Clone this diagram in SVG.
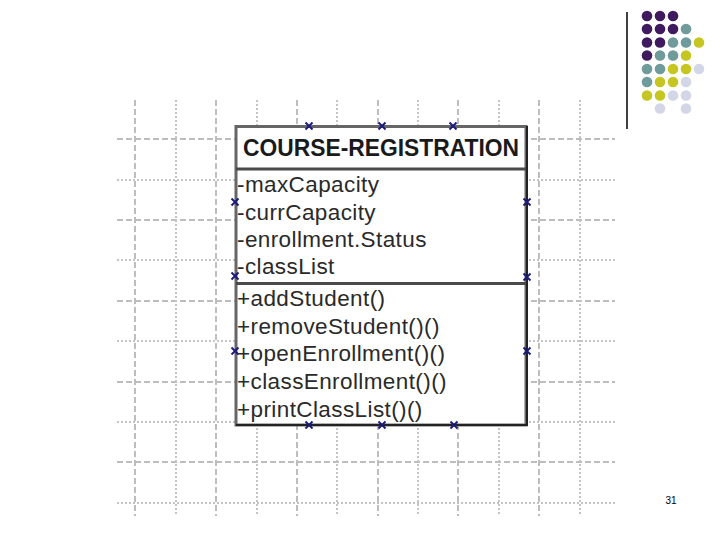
<svg xmlns="http://www.w3.org/2000/svg" width="720" height="540" viewBox="0 0 720 540">
<style>
.gD{stroke:#bdbdbd;stroke-width:2;stroke-dasharray:6 3;fill:none}
.gd{stroke:#c4c4c4;stroke-width:2;stroke-dasharray:2 2;fill:none}
.t{font-family:"Liberation Sans",Arial,sans-serif;font-size:22.5px;letter-spacing:0.4px;fill:#2a2a2a}
.h{font-family:"Liberation Sans",Arial,sans-serif;font-size:23px;font-weight:bold;fill:#1a1a1a}
.mk{stroke:#1a1a7a;stroke-width:1.9;fill:none}
.P{fill:#3f1a5f}.T{fill:#6f9b9b}.Y{fill:#c6c622}.L{fill:#d3d6e6}
</style>
<defs>
<path id="x" d="M-3.5,-3.5L3.5,3.5M-3.5,3.5L3.5,-3.5" class="mk"/>
</defs>
<rect width="720" height="540" fill="#fff"/>
<g id="grid">
<g class="gD">
<path d="M135,100V516M216,100V516M297,100V516M378,100V516M458,100V516M539,100V516"/>
<path d="M117,139H615M117,220H615M117,301H615M117,382H615M117,462H615"/>
</g>
<g class="gd">
<path d="M176,100V516M257,100V516M337,100V516M418,100V516M499,100V516M580,100V516"/>
<path d="M117,180H615M117,260H615M117,341H615M117,422H615M117,503H615"/>
</g>
</g>
<g id="course-registration">
<rect x="236" y="126.5" width="290" height="298.5" fill="#fff" stroke="#666" stroke-width="3"/>
<path d="M236,169H526M236,283.5H526" stroke="#4a4a4a" stroke-width="3"/>
<path d="M236,425H527V126" stroke="#222" stroke-width="2" fill="none"/>
<text class="h" x="381" y="155.5" text-anchor="middle" textLength="276" lengthAdjust="spacingAndGlyphs">COURSE-REGISTRATION</text>
<text class="t" x="237" y="192">-maxCapacity</text>
<text class="t" x="237" y="219.5">-currCapacity</text>
<text class="t" x="237" y="247">-enrollment.Status</text>
<text class="t" x="237" y="274">-classList</text>
<text class="t" x="237" y="306">+addStudent()</text>
<text class="t" x="237" y="334">+removeStudent()()</text>
<text class="t" x="237" y="361">+openEnrollment()()</text>
<text class="t" x="237" y="389">+classEnrollment()()</text>
<text class="t" x="237" y="416.5">+printClassList()()</text>
</g>
<g id="handles">
<use href="#x" x="309" y="126"/><use href="#x" x="382" y="126"/><use href="#x" x="453" y="126"/>
<use href="#x" x="309" y="425"/><use href="#x" x="382" y="425"/><use href="#x" x="454" y="425"/>
<use href="#x" x="235" y="202"/><use href="#x" x="235" y="276"/><use href="#x" x="235" y="351"/>
<use href="#x" x="527" y="202"/><use href="#x" x="527" y="277"/><use href="#x" x="527" y="351"/>
</g>
<g id="decoration">
<path d="M627,12V129" stroke="#000" stroke-width="1.5"/>
<g>
<circle class="P" cx="647" cy="16" r="5.3"/><circle class="P" cx="660" cy="16" r="5.3"/><circle class="P" cx="673" cy="16" r="5.3"/>
<circle class="P" cx="647" cy="29" r="5.3"/><circle class="P" cx="660" cy="29" r="5.3"/><circle class="P" cx="673" cy="29" r="5.3"/><circle class="T" cx="686" cy="29" r="5.3"/>
<circle class="P" cx="647" cy="42.5" r="5.3"/><circle class="P" cx="660" cy="42.5" r="5.3"/><circle class="T" cx="673" cy="42.5" r="5.3"/><circle class="T" cx="686" cy="42.5" r="5.3"/><circle class="Y" cx="699" cy="42.5" r="5.3"/>
<circle class="P" cx="647" cy="55.5" r="5.3"/><circle class="T" cx="660" cy="55.5" r="5.3"/><circle class="T" cx="673" cy="55.5" r="5.3"/><circle class="Y" cx="686" cy="55.5" r="5.3"/>
<circle class="T" cx="647" cy="69" r="5.3"/><circle class="T" cx="660" cy="69" r="5.3"/><circle class="Y" cx="673" cy="69" r="5.3"/><circle class="Y" cx="686" cy="69" r="5.3"/><circle class="L" cx="699" cy="69" r="5.3"/>
<circle class="T" cx="647" cy="82" r="5.3"/><circle class="Y" cx="660" cy="82" r="5.3"/><circle class="Y" cx="673" cy="82" r="5.3"/><circle class="L" cx="686" cy="82" r="5.3"/>
<circle class="Y" cx="647" cy="95.5" r="5.3"/><circle class="Y" cx="660" cy="95.5" r="5.3"/><circle class="L" cx="673" cy="95.5" r="5.3"/><circle class="L" cx="686" cy="95.5" r="5.3"/>
<circle class="L" cx="660" cy="108.5" r="5.3"/><circle class="L" cx="686" cy="108.5" r="5.3"/>
</g>
<text x="671" y="504" text-anchor="middle" font-family="Liberation Sans, Arial, sans-serif" font-size="10" fill="#000">31</text>
</g>
</svg>
